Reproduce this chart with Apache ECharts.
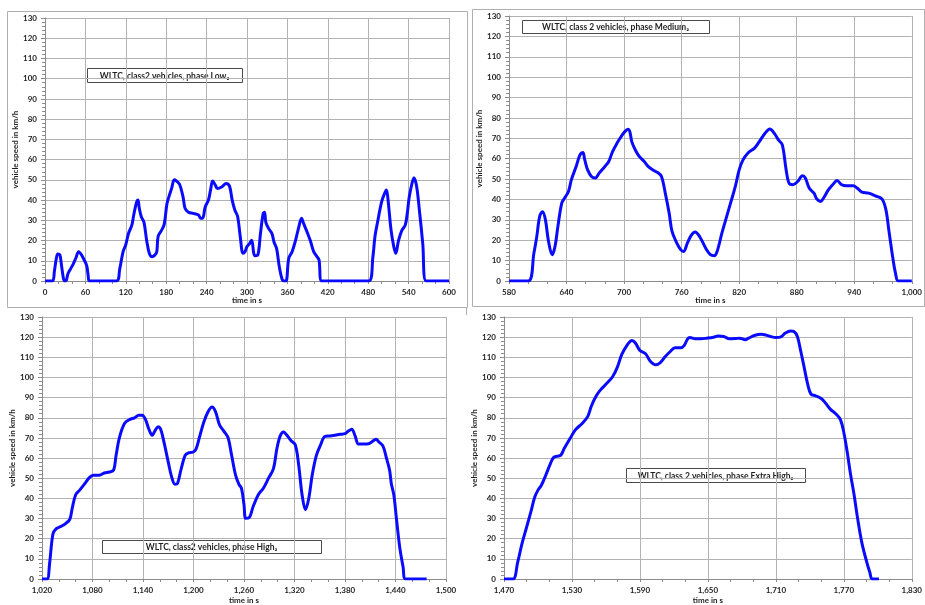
<!DOCTYPE html>
<html>
<head>
<meta charset="utf-8">
<script src="https://cdn.jsdelivr.net/npm/echarts@6/dist/echarts.min.js"></script>
<style>
  html, body { margin: 0; padding: 0; background: #ffffff; }
  #chart { width: 925px; height: 605px; }
</style>
</head>
<body>
<div id="chart"></div>
<script>
// WLTC class 2 drive cycle, vehicle speed (km/h) over time (s), one panel per phase

const lowTime = [0,11,14,17,19,22,24,27,29,31,34,38,42,46,50,54,58,62,64,66,106,111,116,120,124,129,132,136,138,140,143,147,151,155,159,163,166,168,173,177,181,184,188,192,195,200,205,208,213,220,228,231,234,238,243,246,249,253,256,263,269,274,278,282,286,290,294,297,300,304,307,310,312,316,320,324,326,328,332,337,340,344,348,352,355,358,362,367,372,377,381,384,389,394,399,404,407,411,481,487,490,494,500,504,507,509,514,518,521,525,530,535,538,541,545,548,552,556,561,566,600];
const lowSpeed = [0,0,5,11.5,13.3,13,9,2,0,0,3.5,6,8.5,11.5,14.5,13,10.5,7.5,3,0,0,6,14.5,18,23.5,27.6,33,39,40,36,31.8,29,20,13.6,12,12.8,14.5,22,25,28,38,41.6,45.7,50,49.5,47.7,41.6,36,34,33.4,32.6,31,31,36.7,40.3,45.3,49.4,47.4,45.7,46.6,48.2,46.9,40,35,32,21.9,13.7,14.5,17,18.6,20.2,13.7,12.5,12.8,23.5,33.4,34,29,26,23.5,19.4,16,7,1,0,0,11.2,14.5,20,26.8,31,28.5,24.4,20,14.5,12,10.4,0,0,12,21.9,29.3,39.2,43,45,41.6,25,17,13.7,20,25,27.6,33.4,41.6,48.2,51,46.6,35,18.6,0,0];

const mediumTime = [580,600,606,609,612,615,618,621,625,628,631,635,638,642,645,650,654,657,659,662,666,670,674,680,684,688,693,697,700,704,706,708,712,716,721,725,730,735,739,743,747,750,755,759,762,766,770,774,779,785,790,794,797,802,807,812,816,820,824,829,836,841,847,852,857,861,865,869,872,876,881,886,889,893,898,901,905,908,913,918,922,927,932,939,943,948,955,962,969,973,976,980,983,986,1000];
const mediumSpeed = [0,0,13.7,21.9,31.7,34,30,20,12.9,17,26.8,38.2,40.7,43.9,49.6,56.2,61.9,63,59.4,54.5,51.3,50.5,52.9,56.2,58.6,63.5,67.9,70.9,72.8,74.5,73.3,68.4,64,61,58.6,56.2,54.5,53.2,51.3,43,33.3,24.3,18.6,15.4,14.5,18.6,22.4,24,21.6,16.2,12.9,12.4,14.5,23.5,31.7,39.8,46.4,54.5,59.4,62.7,65.2,68.4,72.5,74.6,72.2,69.2,66.8,54.5,48,47.2,48.8,51.6,50.5,45.6,43.1,40.2,39,40.7,44.7,47.5,49.3,47.2,46.7,46.7,45.6,43.6,43.1,41.8,40.2,35,25.2,12,3.9,0,0];

const highTime = [1020,1026,1029,1033,1037,1043,1048,1053,1056,1060,1065,1071,1076,1081,1088,1094,1100,1105,1108,1112,1118,1124,1130,1135,1139,1143,1147,1151,1154,1158,1161,1165,1170,1174,1178,1181,1185,1190,1194,1199,1203,1207,1212,1217,1222,1226,1231,1236,1241,1245,1250,1254,1257,1260,1262,1266,1271,1277,1283,1289,1295,1299,1303,1307,1310,1316,1321,1325,1329,1333,1337,1341,1346,1351,1356,1362,1368,1374,1380,1384,1388,1392,1396,1402,1408,1414,1417,1420,1425,1429,1433,1435,1438,1441,1445,1449,1452,1477];
const highSpeed = [0,0,7.6,22.3,25,26.2,27.5,29.6,35.3,41.8,44.2,47.4,50.2,51.5,51.5,52.6,53.1,54,61.3,70.2,77.2,79.1,80,81.2,81.2,79.1,74.3,71.3,73.4,75.6,74.3,67.8,58,50.7,47,47.4,54,61.3,62.6,62.9,64.5,70.2,77.5,82.7,85.3,83.2,76.4,73.4,70.2,62.1,51.5,47,45,36.9,30.1,30.4,36.1,41.8,45,49.9,54.8,64.5,71,73,71.8,68.6,66.5,56.4,41.8,34.4,40.1,51.5,61.3,66.5,70.7,71,71.3,71.8,72.1,73.4,74.3,71,67,67,67.1,68.7,69.4,68.1,66.1,60.4,54,47.4,41.8,30.4,15.8,6,0,0];

const extraHighTime = [1470,1478,1482,1486,1490,1494,1497,1500,1503,1507,1511,1514,1520,1523,1528,1533,1539,1544,1547,1551,1555,1561,1566,1570,1574,1579,1583,1586,1590,1595,1599,1604,1608,1612,1617,1621,1626,1629,1632,1634,1639,1644,1649,1655,1659,1664,1669,1674,1678,1683,1686,1691,1697,1701,1706,1710,1715,1718,1723,1726,1729,1732,1735,1738,1741,1745,1750,1754,1758,1763,1767,1770,1773,1776,1779,1782,1786,1790,1793,1795,1801];
const extraHighSpeed = [0,0,8.1,17.8,25.8,33.9,40.4,44.1,46.5,51.7,57.3,60.4,61.4,64.6,69.4,74,77.2,80.7,85.6,90.4,93.7,97.2,100.5,105,111.4,116.3,118.4,117.1,113.4,111.8,108.2,106.3,107.4,110.1,113,114.7,114.7,115.8,119,119.8,119.2,119.2,119.5,120,120.6,120.3,119.2,119.3,119.5,118.7,119.5,120.8,121.4,121.1,120.2,119.8,120.3,121.9,123.1,122.8,120.3,113,105,96.9,91.7,90.9,89.6,87.2,84.3,81.9,79.1,72.7,63,51.7,42,30.7,17.8,8.9,3.2,0,0];

const phaseTitles = [
  'WLTC, class2 vehicles, phase Low\u2082',
  'WLTC, class 2 vehicles, phase Medium\u2082',
  'WLTC, class2 vehicles, phase High\u2082',
  'WLTC, class 2 vehicles, phase Extra High\u2082'
];
const timeRanges = [[0, 600], [580, 1000], [1020, 1500], [1470, 1830]];
const speedMax = 130;

const FONT = 'Lato, "Liberation Sans", sans-serif';
const TXT = '#1f1f1f';
const GRIDC = '#b3b3b3';

function zip(t, v) { return t.map((x, i) => [x, v[i]]); }
function thousands(v) { return String(v).replace(/\B(?=(\d{3})+(?!\d))/g, ','); }

const panels = [
  { grid: { left: 45, top: 18, width: 404, height: 263 }, data: zip(lowTime, lowSpeed),
    box: { x: 87, y: 68, w: 155, h: 14 }, nameGap: 15 },
  { grid: { left: 509, top: 16, width: 407, height: 265 }, data: zip(mediumTime, mediumSpeed),
    box: { x: 522, y: 20, w: 187, h: 13 }, nameGap: 15 },
  { grid: { left: 42, top: 317, width: 404, height: 267 }, data: zip(highTime, highSpeed),
    box: { x: 102, y: 540, w: 219, h: 13 }, nameGap: 17 },
  { grid: { left: 504, top: 317, width: 411, height: 268 }, data: zip(extraHighTime, extraHighSpeed),
    box: { x: 626, y: 468, w: 179, h: 14 }, nameGap: 17 }
];

const grids = [], xAxes = [], yAxes = [], series = [], graphics = [];

panels.forEach((p, i) => {
  grids.push(Object.assign({ containLabel: false }, p.grid));
  xAxes.push({
    type: 'value', gridIndex: i,
    min: timeRanges[i][0], max: timeRanges[i][1], interval: 60,
    name: 'time in s', nameLocation: 'middle', nameGap: p.nameGap,
    nameTextStyle: { fontFamily: FONT, fontSize: 8, fontWeight: 'bold', color: TXT },
    axisLine: { show: true, onZero: false, lineStyle: { color: '#8c8c8c', width: 1 } },
    axisTick: { show: true, length: 3, lineStyle: { color: '#8c8c8c' } },
    minorTick: { show: true, splitNumber: 3, length: 3, lineStyle: { color: '#8c8c8c' } },
    splitLine: { show: true, lineStyle: { color: GRIDC, width: 1 } },
    axisLabel: { fontFamily: FONT, fontSize: 8, fontWeight: 'bold', color: TXT, margin: 7,
      formatter: thousands, showMinLabel: true, showMaxLabel: true }
  });
  yAxes.push({
    type: 'value', gridIndex: i, min: 0, max: speedMax, interval: 10,
    name: 'vehicle speed in km/h', nameLocation: 'middle', nameGap: 24, nameRotate: 90,
    nameTextStyle: { fontFamily: FONT, fontSize: 8, fontWeight: 'bold', color: TXT },
    axisLine: { show: true, lineStyle: { color: '#8c8c8c', width: 1 } },
    axisTick: { show: true, length: 4, lineStyle: { color: '#8c8c8c' } },
    minorTick: { show: true, splitNumber: 5, length: 3, lineStyle: { color: '#8c8c8c' } },
    splitLine: { show: true, lineStyle: { color: GRIDC, width: 1 } },
    axisLabel: { fontFamily: FONT, fontSize: 8, fontWeight: 'bold', color: TXT, margin: 8 }
  });
  series.push({
    type: 'line', xAxisIndex: i, yAxisIndex: i, data: p.data,
    showSymbol: false, smooth: 0.35, animation: false,
    lineStyle: { color: '#0a0aff', width: 3 }
  });
  const b = p.box;
  graphics.push({
    type: 'group', z: 100,
    children: [
      { type: 'rect', shape: { x: b.x + 0.5, y: b.y + 0.5, width: b.w, height: b.h },
        style: { fill: '#ffffff', stroke: '#4a4a4a', lineWidth: 1 } },
      { type: 'text', x: b.x + b.w / 2, y: b.y + b.h / 2 + 1,
        style: { text: phaseTitles[i], fill: TXT, font: 'bold 8.5px ' + FONT,
          align: 'center', verticalAlign: 'middle' } }
    ]
  });
});

// Panel frames
graphics.push(
  { type: 'rect', z: 0, shape: { x: 7.5, y: 11.5, width: 460, height: 296 },
    style: { fill: 'none', stroke: '#b0b0b0', lineWidth: 1 } },
  { type: 'rect', z: 0, shape: { x: 472.5, y: 9.5, width: 452, height: 297 },
    style: { fill: 'none', stroke: '#b0b0b0', lineWidth: 1 } },
  { type: 'line', z: 0, shape: { x1: 466.5, y1: 307, x2: 466.5, y2: 315 },
    style: { stroke: '#b0b0b0', lineWidth: 1 } }
);

const chart = echarts.init(document.getElementById('chart'), null, { renderer: 'canvas' });
chart.setOption({
  backgroundColor: '#ffffff',
  animation: false,
  grid: grids,
  xAxis: xAxes,
  yAxis: yAxes,
  series: series,
  graphic: graphics
});
</script>
</body>
</html>
